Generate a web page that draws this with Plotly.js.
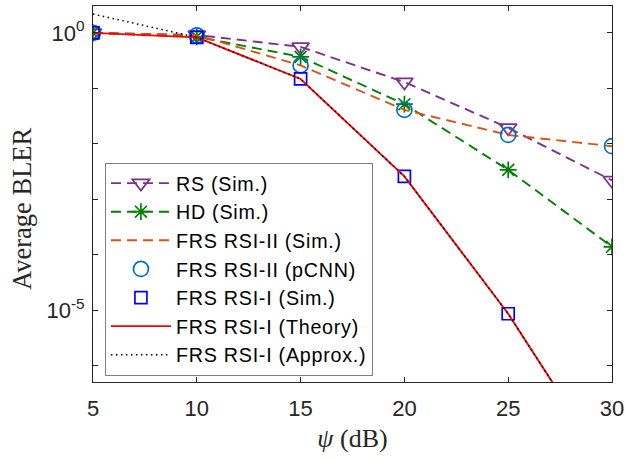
<!DOCTYPE html>
<html>
<head>
<meta charset="utf-8">
<script src="https://cdn.plot.ly/plotly-3.0.1.min.js"></script>
<style>html,body{margin:0;padding:0;background:#fff;}#chart{width:625px;height:461px;}
text.legendtext{letter-spacing:0.75px;}
</style>
</head>
<body>
<div id="chart"></div>
<script>
var psi = [5, 10, 15, 20, 25, 30];
var rsSim = [1.0, 0.92, 0.56, 0.13, 0.0195, 0.0022];
var hdSim = [1.0, 0.85, 0.37, 0.052, 0.0034, 0.00014];
var rsi2Sim = [1.0, 0.91, 0.26, 0.041, 0.0145, 0.0091];
var rsi2Cnn = [1.0, 0.90, 0.26, 0.041, 0.0145, 0.0091];
var rsi1SimX = [5, 10, 15, 20, 25];
var rsi1Sim = [1.0, 0.83, 0.148, 0.0026, 0.0000087];
var rsi1Theory = [1.0, 0.83, 0.148, 0.0026, 0.0000087, 1.1e-8];
var rsi1Approx = [2.19, 0.83, 0.148, 0.0026, 0.0000087, 1.1e-8];
var names = ['RS (Sim.)', 'HD (Sim.)', 'FRS RSI-II (Sim.)', 'FRS RSI-II (pCNN)', 'FRS RSI-I (Sim.)', 'FRS RSI-I (Theory)', 'FRS RSI-I (Approx.)'];
var yTickVals = [1e-5, 1];
var yTickText = ['10<sup>-5</sup>', '10<sup>0</sup>'];
var yMinorVals = [1e-6, 1e-4, 1e-3, 1e-2, 1e-1];
var xTickVals = [5, 10, 15, 20, 25, 30];

var dashed = '10px,6px';
var traces = [
  {x: psi, y: rsSim, name: names[0], mode: 'lines+markers',
   line: {color: '#7E2F8E', width: 1.9, dash: dashed},
   marker: {symbol: 'triangle-down-open', size: 15, color: '#7E2F8E', line: {width: 1.7, color: '#7E2F8E'}}},
  {x: psi, y: hdSim, name: names[1], mode: 'lines+markers',
   line: {color: '#008000', width: 1.9, dash: dashed},
   marker: {symbol: 'asterisk-open', size: 14, color: '#008000', line: {width: 1.7, color: '#008000'}}},
  {x: psi, y: rsi2Sim, name: names[2], mode: 'lines',
   line: {color: '#D95319', width: 1.9, dash: dashed}},
  {x: psi, y: rsi2Cnn, name: names[3], mode: 'markers',
   marker: {symbol: 'circle-open', size: 15, color: '#0072BD', line: {width: 1.7, color: '#0072BD'}}},
  {x: rsi1SimX, y: rsi1Sim, name: names[4], mode: 'markers',
   marker: {symbol: 'square-open', size: 12, color: '#0000FF', line: {width: 1.7, color: '#0000FF'}}},
  {x: psi, y: rsi1Theory, name: names[5], mode: 'lines',
   line: {color: '#FF0000', width: 1.9}},
  {x: psi, y: rsi1Approx, name: names[6], mode: 'lines',
   line: {color: '#000000', width: 1.5, dash: '1.5px,3.5px'}}
];

var axColor = '#262626';
var serif = 'Liberation Serif, DejaVu Serif, serif';
var layout = {
  width: 625, height: 461,
  margin: {l: 93, r: 13, t: 6, b: 79},
  paper_bgcolor: '#ffffff', plot_bgcolor: '#ffffff',
  showlegend: true,
  font: {family: 'Liberation Sans, Arial, sans-serif', size: 22, color: axColor},
  xaxis: {
    range: [5, 30], tickvals: xTickVals, ticktext: xTickVals.map(String),
    ticks: 'inside', ticklen: 5, tickcolor: axColor, tickwidth: 1,
    showline: true, linecolor: axColor, linewidth: 1, mirror: 'ticks',
    showgrid: false, zeroline: false, ticklabelstandoff: 7,
    tickfont: {size: 22, color: axColor},
    title: {text: '<i>ψ</i> (dB)', font: {family: serif, size: 26, color: axColor}, standoff: 8}
  },
  yaxis: {
    type: 'log', range: [-6.29, 0.485],
    tickvals: yTickVals, ticktext: yTickText,
    ticks: 'inside', ticklen: 5, tickcolor: axColor, tickwidth: 1,
    minor: {tickmode: 'array', tickvals: yMinorVals, ticks: 'inside', ticklen: 5, tickcolor: axColor, tickwidth: 1, showgrid: false},
    showline: true, linecolor: axColor, linewidth: 1, mirror: 'ticks',
    showgrid: false, zeroline: false, ticklabelstandoff: 3,
    tickfont: {size: 22, color: axColor}
  },
  annotations: [{
    text: 'Average BLER', textangle: -90, xref: 'paper', yref: 'paper',
    x: -0.137, y: 0.46, xanchor: 'center', yanchor: 'middle', showarrow: false,
    font: {family: serif, size: 26.5, color: axColor}
  }],
  legend: {
    x: 0.023, y: 0.583, xanchor: 'left', yanchor: 'top',
    bgcolor: '#ffffff', bordercolor: '#7f7f7f', borderwidth: 1,
    font: {family: 'Liberation Sans, Arial, sans-serif', size: 19.7, color: '#000000'},
    itemwidth: 60, tracegroupgap: 0
  }
};

Plotly.newPlot('chart', traces, layout, {displayModeBar: false, staticPlot: true});
</script>
</body>
</html>
